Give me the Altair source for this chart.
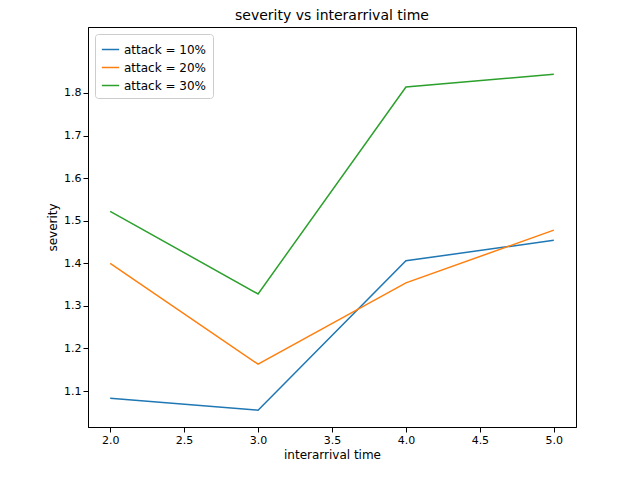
import altair as alt
import pandas as pd

x_vals = [2.0, 3.0, 4.0, 5.0]
series_names = ["attack = 10%", "attack = 20%", "attack = 30%"]
sev_10 = [1.083, 1.055, 1.406, 1.454]
sev_20 = [1.400, 1.163, 1.354, 1.478]
sev_30 = [1.522, 1.328, 1.814, 1.844]
colors = ["#1f77b4", "#ff7f0e", "#2ca02c"]

rows = []
for name, vals in zip(series_names, [sev_10, sev_20, sev_30]):
    for x, y in zip(x_vals, vals):
        rows.append({"interarrival time": x, "severity": y, "series": name})
df = pd.DataFrame(rows)

chart = (
    alt.Chart(df)
    .mark_line(strokeWidth=1.5, clip=True)
    .encode(
        x=alt.X("interarrival time:Q",
                scale=alt.Scale(domain=[1.85, 5.15], nice=False, zero=False),
                axis=alt.Axis(values=[2.0, 2.5, 3.0, 3.5, 4.0, 4.5, 5.0], format=".1f",
                              grid=False, title="interarrival time")),
        y=alt.Y("severity:Q",
                scale=alt.Scale(domain=[1.0155, 1.955], nice=False, zero=False),
                axis=alt.Axis(values=[1.1, 1.2, 1.3, 1.4, 1.5, 1.6, 1.7, 1.8], format=".1f",
                              grid=False, title="severity")),
        color=alt.Color("series:N",
                        scale=alt.Scale(domain=series_names, range=colors),
                        legend=alt.Legend(title=None, orient="top-left", offset=7,
                                          symbolType="stroke", symbolSize=300,
                                          symbolStrokeWidth=1.5, labelFontSize=12,
                                          strokeColor="#cccccc", fillColor="white",
                                          padding=6, cornerRadius=3)),
    )
    .properties(
        width=488, height=400,
        title=alt.Title("severity vs interarrival time", fontSize=14, fontWeight="normal"),
        autosize=alt.AutoSizeParams(type="none"),
        padding={"left": 80, "top": 19, "right": 50, "bottom": 40},
    )
    .configure_view(stroke="black", strokeWidth=1)
    .configure_axis(domainColor="black", tickColor="black", labelColor="black",
                    titleColor="black", labelFontSize=11, titleFontSize=12,
                    titleFontWeight="normal", labelFont="DejaVu Sans", titleFont="DejaVu Sans")
    .configure_legend(labelFont="DejaVu Sans")
    .configure_title(font="DejaVu Sans", color="black")
)

chart.save("out.html", embed_options={"renderer": "svg", "actions": False})
